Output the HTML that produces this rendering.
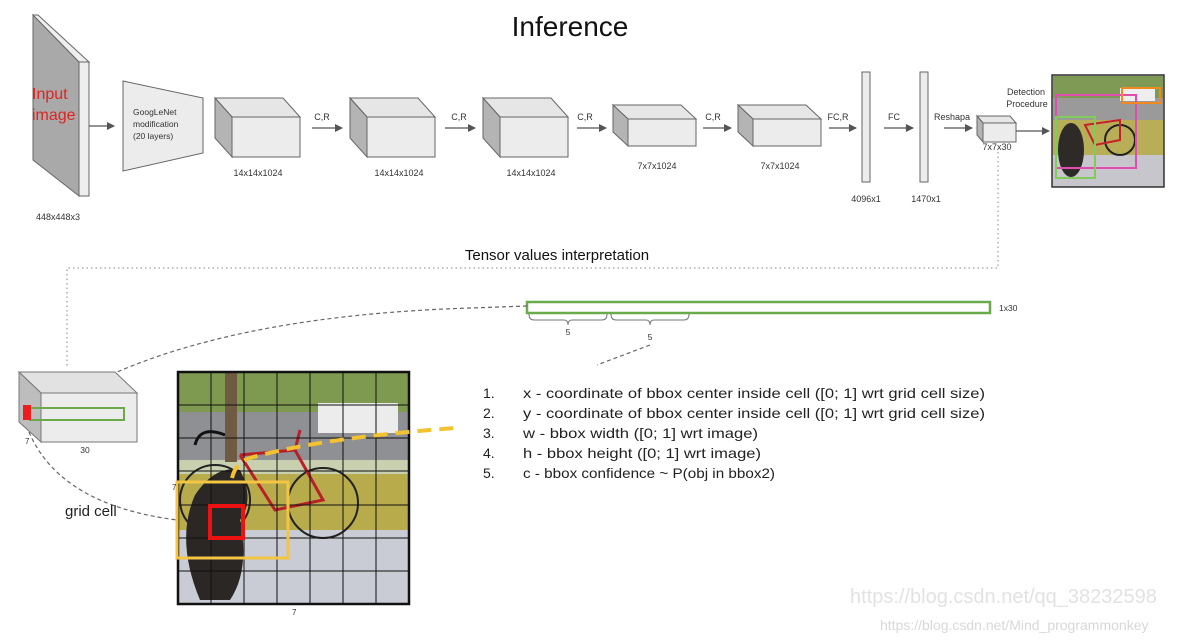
<!DOCTYPE html>
<html><head><meta charset="utf-8"><style>
html,body{margin:0;padding:0;background:#fff;}
svg{display:block;font-family:"Liberation Sans",Arial,sans-serif;}
</style></head><body>
<svg width="1193" height="643" viewBox="0 0 1193 643" xmlns="http://www.w3.org/2000/svg">
<defs>
<marker id="ah" markerWidth="8" markerHeight="8" refX="7" refY="4" orient="auto" markerUnits="userSpaceOnUse"><path d="M0,0 L8,4 L0,8 z" fill="#555"/></marker>
</defs>
<rect width="1193" height="643" fill="#fff"/>
<text x="570" y="36" font-size="28" text-anchor="middle" fill="#111">Inference</text>

<polygon points="33,15 79,62 79,196 33,160" fill="#a9a9a9" stroke="#666" stroke-width="1"/>
<polygon points="33,15 38,15 89,62 79,62" fill="#eee" stroke="#666" stroke-width="1"/>
<rect x="79" y="62" width="10" height="134" fill="#eee" stroke="#666" stroke-width="1"/>
<text x="32" y="99" font-size="16" fill="#e0231f">Input</text>
<text x="32" y="120" font-size="16" fill="#e0231f">image</text>
<text x="58" y="220" font-size="9" text-anchor="middle" fill="#333">448x448x3</text>
<line x1="89" y1="126" x2="114" y2="126" stroke="#555" stroke-width="1.3" marker-end="url(#ah)"/>

<polygon points="123,81 203,98 203,153 123,171" fill="#ececec" stroke="#666" stroke-width="1"/>
<text x="133" y="115" font-size="8.5" fill="#333">GoogLeNet</text>
<text x="133" y="127" font-size="8.5" fill="#333">modification</text>
<text x="133" y="139" font-size="8.5" fill="#333">(20 layers)</text>

<g stroke="#666" stroke-width="1">
<g transform="translate(215,98)"><polygon points="0,0 68,0 85,19 17,19" fill="#e6e6e6"/><polygon points="0,0 17,19 17,59 0,40" fill="#b4b4b4"/><rect x="17" y="19" width="68" height="40" fill="#ececec"/></g>
<g transform="translate(350,98)"><polygon points="0,0 68,0 85,19 17,19" fill="#e6e6e6"/><polygon points="0,0 17,19 17,59 0,40" fill="#b4b4b4"/><rect x="17" y="19" width="68" height="40" fill="#ececec"/></g>
<g transform="translate(483,98)"><polygon points="0,0 68,0 85,19 17,19" fill="#e6e6e6"/><polygon points="0,0 17,19 17,59 0,40" fill="#b4b4b4"/><rect x="17" y="19" width="68" height="40" fill="#ececec"/></g>
<g transform="translate(613,105)"><polygon points="0,0 68,0 83,14 15,14" fill="#e6e6e6"/><polygon points="0,0 15,14 15,41 0,27" fill="#b4b4b4"/><rect x="15" y="14" width="68" height="27" fill="#ececec"/></g>
<g transform="translate(738,105)"><polygon points="0,0 68,0 83,14 15,14" fill="#e6e6e6"/><polygon points="0,0 15,14 15,41 0,27" fill="#b4b4b4"/><rect x="15" y="14" width="68" height="27" fill="#ececec"/></g>
<rect x="862" y="72" width="8" height="110" fill="#ececec"/>
<rect x="920" y="72" width="8" height="110" fill="#ececec"/>
<g transform="translate(977,116)"><polygon points="0,0 33,0 39,7 6,7" fill="#e6e6e6"/><polygon points="0,0 6,7 6,26 0,19" fill="#b4b4b4"/><rect x="6" y="7" width="33" height="19" fill="#ececec"/></g>
</g>
<g font-size="9" fill="#333" text-anchor="middle">
<text x="258" y="176">14x14x1024</text>
<text x="399" y="176">14x14x1024</text>
<text x="531" y="176">14x14x1024</text>
<text x="657" y="169">7x7x1024</text>
<text x="780" y="169">7x7x1024</text>
<text x="866" y="202">4096x1</text>
<text x="926" y="202">1470x1</text>
<text x="997" y="150">7x7x30</text>
<text x="322" y="120">C,R</text>
<text x="459" y="120">C,R</text>
<text x="585" y="120">C,R</text>
<text x="713" y="120">C,R</text>
<text x="838" y="120">FC,R</text>
<text x="894" y="120">FC</text>
<text x="952" y="120">Reshapa</text>
<text x="1026" y="95">Detection</text>
<text x="1027" y="107">Procedure</text>
</g>
<g stroke="#555" stroke-width="1.3" marker-end="url(#ah)">
<line x1="312" y1="128" x2="342" y2="128"/>
<line x1="445" y1="128" x2="475" y2="128"/>
<line x1="577" y1="128" x2="606" y2="128"/>
<line x1="703" y1="128" x2="731" y2="128"/>
<line x1="829" y1="128" x2="856" y2="128"/>
<line x1="884" y1="128" x2="913" y2="128"/>
<line x1="944" y1="128" x2="972" y2="128"/>
<line x1="1016" y1="131" x2="1049" y2="131"/>
</g>

<rect x="1052" y="75" width="112" height="112" fill="#b9b8b4" stroke="#333" stroke-width="1.5"/>
<rect x="1053" y="76" width="110" height="22" fill="#7f9a55"/>
<rect x="1053" y="98" width="110" height="22" fill="#9b9a9b"/>
<rect x="1053" y="120" width="110" height="35" fill="#b8ae58"/>
<rect x="1053" y="155" width="110" height="31" fill="#c6c6cc"/>
<rect x="1120" y="88" width="35" height="13" fill="#eee"/>
<ellipse cx="1071" cy="150" rx="13" ry="27" fill="#2d2a27"/>
<circle cx="1120" cy="140" r="15" fill="none" stroke="#222" stroke-width="2"/>
<path d="M1085,125 L1120,120 L1120,140 L1095,145z" fill="none" stroke="#c8202a" stroke-width="2"/>
<rect x="1056" y="95" width="80" height="73" fill="none" stroke="#e04cb0" stroke-width="2"/>
<rect x="1122" y="88" width="38" height="15" fill="none" stroke="#f08a20" stroke-width="2"/>
<rect x="1056" y="117" width="39" height="61" fill="none" stroke="#7fcc5a" stroke-width="2"/>

<path d="M998,152 V268 H67 V368" fill="none" stroke="#888" stroke-width="1" stroke-dasharray="1.5,3"/>
<text x="557" y="260" font-size="15" text-anchor="middle" fill="#111">Tensor values interpretation</text>

<rect x="527" y="302" width="463" height="11" fill="#fff" stroke="#6aaa4a" stroke-width="2.5"/>
<text x="999" y="311" font-size="8.5" fill="#333">1x30</text>
<path d="M529,314 q0,6 5,6 h30 q4,0 4,5 q0,-5 4,-5 h30 q5,0 5,-6" fill="none" stroke="#777" stroke-width="1"/>
<path d="M611,314 q0,6 5,6 h30 q4,0 4,5 q0,-5 4,-5 h30 q5,0 5,-6" fill="none" stroke="#777" stroke-width="1"/>
<text x="568" y="335" font-size="8.5" text-anchor="middle" fill="#333">5</text>
<text x="650" y="340" font-size="8.5" text-anchor="middle" fill="#333">5</text>
<path d="M650,345 L597,365" fill="none" stroke="#666" stroke-width="1.2" stroke-dasharray="4,3"/>
<path d="M527,306 L470,308 Q250,315 117,372" fill="none" stroke="#666" stroke-width="1.2" stroke-dasharray="4,3"/>
<path d="M77,408 Q90,385 117,371" fill="none" stroke="#666" stroke-width="1.2" stroke-dasharray="4,3"/>
<path d="M29,432 Q60,505 177,520" fill="none" stroke="#666" stroke-width="1.2" stroke-dasharray="4,3"/>

<g stroke="#777" stroke-width="1">
<polygon points="19,372 115,372 137,393 41,393" fill="#e2e2e2"/>
<polygon points="19,372 41,393 41,442 19,422" fill="#bdbdbd"/>
<rect x="41" y="393" width="96" height="49" fill="#ececec"/>
</g>
<rect x="30" y="408" width="94" height="12" fill="none" stroke="#6aaa4a" stroke-width="2"/>
<rect x="23" y="405" width="8" height="15" fill="#ee1c1c"/>
<text x="25" y="444" font-size="8" fill="#333">7</text>
<text x="85" y="453" font-size="8.5" text-anchor="middle" fill="#333">30</text>
<text x="65" y="516" font-size="15" fill="#222">grid cell</text>

<rect x="178" y="372" width="231" height="232" fill="#c9ccd4"/>
<rect x="178" y="372" width="231" height="40" fill="#7e9a50"/>
<rect x="178" y="412" width="231" height="50" fill="#8f9094"/>
<rect x="178" y="460" width="231" height="14" fill="#c8d0b0"/>
<rect x="178" y="474" width="231" height="56" fill="#b7ab4c"/>
<rect x="318" y="403" width="80" height="30" fill="#ececec"/>
<rect x="225" y="372" width="12" height="90" fill="#6f5a44"/>
<circle cx="215" cy="500" r="35" fill="none" stroke="#222" stroke-width="2"/>
<circle cx="323" cy="503" r="35" fill="none" stroke="#222" stroke-width="2"/>
<path d="M240,455 L295,450 L323,500 L275,510 L240,455 M295,450 L300,430" fill="none" stroke="#b82028" stroke-width="3"/>
<path d="M195,445 q5,-20 30,-10" fill="none" stroke="#111" stroke-width="3"/>
<path d="M200,600 Q175,540 195,495 Q215,465 240,470 Q255,500 240,520 Q250,570 230,600 z" fill="#2a2724"/>
<g stroke="#111" stroke-width="1">
<path d="M211,372 V604 M244,372 V604 M277,372 V604 M310,372 V604 M343,372 V604 M376,372 V604"/>
<path d="M178,405 H409 M178,438 H409 M178,471 H409 M178,505 H409 M178,538 H409 M178,571 H409"/>
</g>
<rect x="178" y="372" width="231" height="232" fill="none" stroke="#111" stroke-width="2.5"/>
<rect x="177" y="482" width="111" height="76" fill="none" stroke="#f4c543" stroke-width="3"/>
<rect x="210" y="506" width="33" height="32" fill="none" stroke="#ee1111" stroke-width="4"/>
<path d="M232,478 Q236,462 250,458 Q320,438 455,428" fill="none" stroke="#f2c230" stroke-width="4" stroke-dasharray="14,8"/>
<text x="172" y="490" font-size="8" fill="#333">7</text>
<text x="292" y="615" font-size="8" fill="#333">7</text>

<g font-size="14" fill="#222">
<text x="483" y="398">1.</text><text x="523" y="398" textLength="462" lengthAdjust="spacingAndGlyphs">x - coordinate of bbox center inside cell ([0; 1] wrt grid cell size)</text>
<text x="483" y="418">2.</text><text x="523" y="418" textLength="462" lengthAdjust="spacingAndGlyphs">y - coordinate of bbox center inside cell ([0; 1] wrt grid cell size)</text>
<text x="483" y="438">3.</text><text x="523" y="438" textLength="235" lengthAdjust="spacingAndGlyphs">w - bbox width ([0; 1] wrt image)</text>
<text x="483" y="458">4.</text><text x="523" y="458" textLength="238" lengthAdjust="spacingAndGlyphs">h - bbox height ([0; 1] wrt image)</text>
<text x="483" y="478">5.</text><text x="523" y="478" textLength="252" lengthAdjust="spacingAndGlyphs">c - bbox confidence ~ P(obj in bbox2)</text>
</g>

<text x="850" y="603" font-size="20" fill="#e2e2e2">https://blog.csdn.net/qq_38232598</text>
<text x="880" y="630" font-size="14" fill="#d8d8d8">https://blog.csdn.net/Mind_programmonkey</text>
</svg>
</body></html>
